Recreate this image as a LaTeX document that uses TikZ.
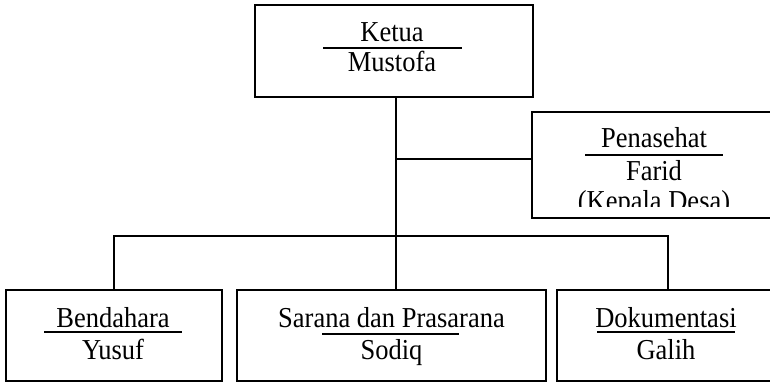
\documentclass[tikz,border=0pt]{standalone}
\usepackage{fontspec}
\setmainfont{Liberation Serif}
\newcommand{\tallt}[1]{\scalebox{1}[1.09]{#1}}
\begin{document}
\begin{tikzpicture}[x=1pt,y=-1pt,
  box/.style={draw,line width=1.1pt,inner sep=0pt,rectangle},
  lbl/.style={anchor=base,inner sep=0pt,font=\fontsize{26.5}{30}\selectfont},
  conn/.style={line width=1.1pt},
  rule/.style={line width=1.1pt}]
\useasboundingbox (0,0) rectangle (770,382);
% boxes
\node[box,minimum width=278pt,minimum height=92pt] (ketua) at (394,51) {};
\node[box,minimum width=250pt,minimum height=106pt] (penasehat) at (657,165) {};
\node[box,minimum width=216pt,minimum height=91pt] (bendahara) at (114,335.5) {};
\node[box,minimum width=309pt,minimum height=91pt] (sarana) at (391.5,335.5) {};
\node[box,minimum width=230pt,minimum height=91pt] (dokumentasi) at (672,335.5) {};
% texts
\node[lbl] (tKetua) at (392,42) {\tallt{Ketua}};
\draw[rule] (323,48) -- (462,48);
\node[lbl] (tMustofa) at (392,72) {\tallt{Mustofa}};
\node[lbl] (tPenasehat) at (654,148) {\tallt{Penasehat}};
\draw[rule] (585,155) -- (723,155);
\node[lbl] (tFarid) at (654,180) {\tallt{Farid}};
\begin{scope}
\clip (533,185) rectangle (780,206);
\node[lbl] (tKepala) at (654,210) {\tallt{(Kepala Desa)}};
\end{scope}
\node[lbl] (tBendahara) at (113,327) {\tallt{Bendahara}};
\draw[rule] (44,332) -- (182,332);
\node[lbl] (tYusuf) at (113,359) {\tallt{Yusuf}};
\node[lbl] (tSarana) at (391.5,327) {\tallt{Sarana dan Prasarana}};
\draw[rule] (322,334) -- (459,334);
\node[lbl] (tSodiq) at (391.5,359) {\tallt{Sodiq}};
\node[lbl] (tDok) at (666,327) {\tallt{Dokumentasi}};
\draw[rule] (597,332) -- (735,332);
\node[lbl] (tGalih) at (666,359) {\tallt{Galih}};
% connectors
\coordinate (bus) at (396,236);
\coordinate (busL) at (114,236);
\coordinate (busR) at (668,236);
\coordinate (pj) at (396,159);
\draw[conn] (ketua.south -| bus) -- (sarana.north -| bus);
\draw[conn] (pj) -- (pj -| penasehat.west);
\draw[conn] (busL |- bendahara.north) -- (busL) -- (busR) -- (busR |- dokumentasi.north);
\end{tikzpicture}
\end{document}
